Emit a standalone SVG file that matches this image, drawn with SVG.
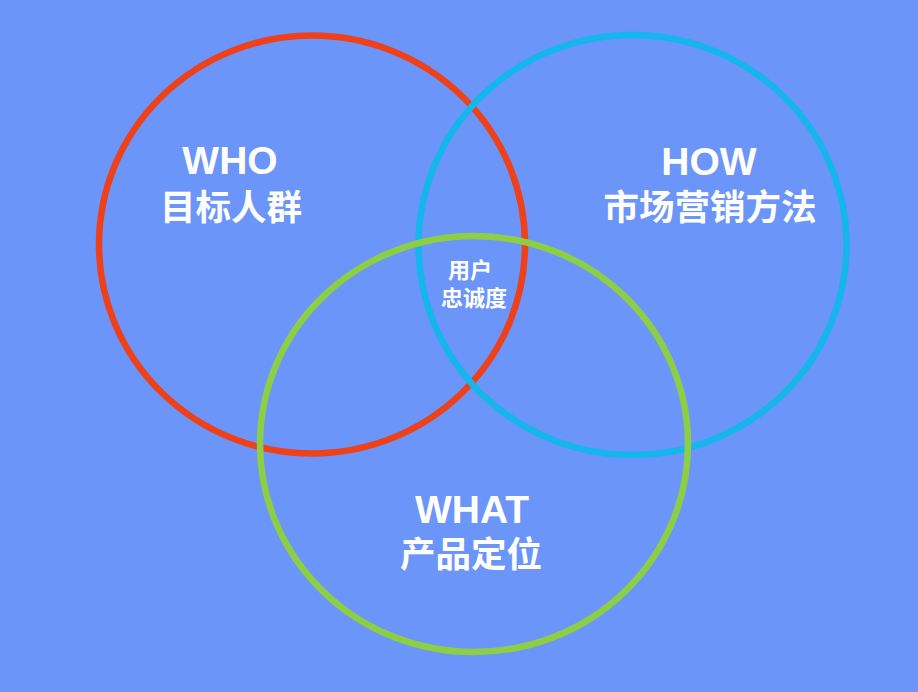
<svg xmlns="http://www.w3.org/2000/svg" width="918" height="692" viewBox="0 0 918 692">
<style>
.c{fill:none;stroke-width:6.5}
.t{fill:#ffffff;font-family:"Liberation Sans","Noto Sans CJK SC",Arial,sans-serif;font-weight:bold;text-anchor:middle}
.big{font-size:39px}
.cjk{font-family:"Noto Sans CJK SC","Liberation Sans",sans-serif;font-size:35.5px;font-weight:bold}
.sm{font-family:"Noto Sans CJK SC","Liberation Sans",sans-serif;font-size:22px;font-weight:bold}
</style>
<rect width="918" height="692" fill="#6b95f8"/>
<g id="connectors"></g>
<g id="who">
<ellipse class="c" cx="312" cy="244.5" rx="213" ry="209" stroke="#ee4119"/>
<text class="t big" x="230" y="174">WHO</text>
<text class="t cjk" x="231" y="220">目标人群</text>
</g>
<g id="how">
<ellipse class="c" cx="632.5" cy="245" rx="214" ry="210" stroke="#14b6ec"/>
<text class="t big" x="709" y="175">HOW</text>
<text class="t cjk" x="710" y="220">市场营销方法</text>
</g>
<g id="what">
<ellipse class="c" cx="474" cy="444" rx="214" ry="208" stroke="#8ccf45"/>
<text class="t big" x="472" y="523">WHAT</text>
<text class="t cjk" x="471" y="567">产品定位</text>
</g>
<g id="loyalty">
<text class="t sm" x="470" y="278">用户</text>
<text class="t sm" x="474" y="306">忠诚度</text>
</g>
</svg>
